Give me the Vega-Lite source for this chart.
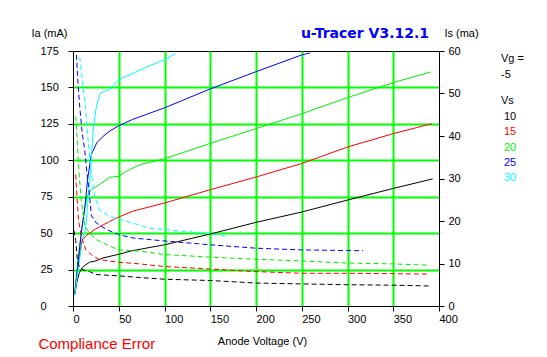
{
  "$schema": "https://vega.github.io/schema/vega-lite/v6.json",
  "autosize": "none",
  "width": 366,
  "height": 255,
  "padding": {"left": 73, "top": 51, "right": 108, "bottom": 51},
  "background": "white",
  "config": {
    "view": {"stroke": "black", "strokeWidth": 1},
    "font": "Liberation Sans",
    "axis": {"labelFont": "Liberation Sans", "titleFont": "Liberation Sans", "labelFontSize": 11, "titleFontSize": 11, "titleFontWeight": "normal", "labelColor": "black", "titleColor": "black", "domainColor": "black", "tickColor": "black", "tickSize": 5, "gridColor": "#00ff00", "gridWidth": 2, "gridOpacity": 1, "labelOverlap": false},
    "legend": {"titleFontSize": 11, "titleFontWeight": "normal", "titleFont": "Liberation Sans", "titleColor": "black", "titlePadding": 5.5, "labelFontSize": 11, "labelFont": "Liberation Sans", "labelColor": "black", "symbolSize": 0, "symbolStrokeWidth": 0, "symbolOpacity": 0, "rowPadding": 3.3, "padding": 0}
  },
  "title": {"text": "u-Tracer V3.12.1", "color": "#0000ff", "fontSize": 14, "fontWeight": "bold", "font": "DejaVu Sans", "anchor": "end", "frame": "group", "dx": -10, "offset": -14},
  "datasets": {
    "ia": [
      {"V": 2, "Ia": 8, "Vs": "10"}, {"V": 4, "Ia": 16, "Vs": "10"}, {"V": 7, "Ia": 23, "Vs": "10"}, {"V": 11, "Ia": 27, "Vs": "10"}, {"V": 18, "Ia": 30, "Vs": "10"}, {"V": 25, "Ia": 31, "Vs": "10"}, {"V": 33, "Ia": 33, "Vs": "10"}, {"V": 50, "Ia": 35.5, "Vs": "10"}, {"V": 65, "Ia": 38, "Vs": "10"}, {"V": 100, "Ia": 42, "Vs": "10"}, {"V": 150, "Ia": 49.4, "Vs": "10"}, {"V": 200, "Ia": 57.4, "Vs": "10"}, {"V": 250, "Ia": 64.5, "Vs": "10"}, {"V": 300, "Ia": 72.7, "Vs": "10"}, {"V": 350, "Ia": 80.7, "Vs": "10"}, {"V": 393, "Ia": 87.2, "Vs": "10"},
      {"V": 2, "Ia": 10, "Vs": "15"}, {"V": 5, "Ia": 25, "Vs": "15"}, {"V": 8, "Ia": 38, "Vs": "15"}, {"V": 10, "Ia": 45, "Vs": "15"}, {"V": 14, "Ia": 48, "Vs": "15"}, {"V": 18, "Ia": 50, "Vs": "15"}, {"V": 25, "Ia": 53, "Vs": "15"}, {"V": 40, "Ia": 58, "Vs": "15"}, {"V": 50, "Ia": 61, "Vs": "15"}, {"V": 65, "Ia": 65, "Vs": "15"}, {"V": 100, "Ia": 70.7, "Vs": "15"}, {"V": 150, "Ia": 79.8, "Vs": "15"}, {"V": 200, "Ia": 88.5, "Vs": "15"}, {"V": 250, "Ia": 97.8, "Vs": "15"}, {"V": 300, "Ia": 109.1, "Vs": "15"}, {"V": 350, "Ia": 118.3, "Vs": "15"}, {"V": 392, "Ia": 125.1, "Vs": "15"},
      {"V": 2, "Ia": 10, "Vs": "20"}, {"V": 6, "Ia": 35, "Vs": "20"}, {"V": 10, "Ia": 55, "Vs": "20"}, {"V": 13, "Ia": 68, "Vs": "20"}, {"V": 16, "Ia": 76, "Vs": "20"}, {"V": 20, "Ia": 80, "Vs": "20"}, {"V": 29, "Ia": 83.3, "Vs": "20"}, {"V": 40, "Ia": 88.3, "Vs": "20"}, {"V": 50, "Ia": 89, "Vs": "20"}, {"V": 58, "Ia": 92.4, "Vs": "20"}, {"V": 73, "Ia": 97, "Vs": "20"}, {"V": 100, "Ia": 101, "Vs": "20"}, {"V": 150, "Ia": 111.6, "Vs": "20"}, {"V": 200, "Ia": 121.7, "Vs": "20"}, {"V": 250, "Ia": 132, "Vs": "20"}, {"V": 300, "Ia": 143, "Vs": "20"}, {"V": 350, "Ia": 153.3, "Vs": "20"}, {"V": 391, "Ia": 160.6, "Vs": "20"},
      {"V": 2, "Ia": 8, "Vs": "25"}, {"V": 4, "Ia": 20, "Vs": "25"}, {"V": 9, "Ia": 50, "Vs": "25"}, {"V": 13, "Ia": 68, "Vs": "25"}, {"V": 16, "Ia": 87, "Vs": "25"}, {"V": 20, "Ia": 104, "Vs": "25"}, {"V": 26, "Ia": 112, "Vs": "25"}, {"V": 33, "Ia": 116.5, "Vs": "25"}, {"V": 40, "Ia": 120, "Vs": "25"}, {"V": 50, "Ia": 123.7, "Vs": "25"}, {"V": 65, "Ia": 128, "Vs": "25"}, {"V": 100, "Ia": 136, "Vs": "25"}, {"V": 150, "Ia": 149, "Vs": "25"}, {"V": 200, "Ia": 160.8, "Vs": "25"}, {"V": 250, "Ia": 172.3, "Vs": "25"}, {"V": 259, "Ia": 173.6, "Vs": "25"},
      {"V": 2, "Ia": 8, "Vs": "30"}, {"V": 5, "Ia": 22, "Vs": "30"}, {"V": 9, "Ia": 40, "Vs": "30"}, {"V": 14, "Ia": 55, "Vs": "30"}, {"V": 16, "Ia": 70, "Vs": "30"}, {"V": 19, "Ia": 91, "Vs": "30"}, {"V": 22, "Ia": 120, "Vs": "30"}, {"V": 25, "Ia": 135, "Vs": "30"}, {"V": 29, "Ia": 145, "Vs": "30"}, {"V": 31, "Ia": 146.5, "Vs": "30"}, {"V": 40, "Ia": 148.5, "Vs": "30"}, {"V": 50, "Ia": 155.3, "Vs": "30"}, {"V": 70, "Ia": 161, "Vs": "30"}, {"V": 91, "Ia": 166.8, "Vs": "30"}, {"V": 100, "Ia": 169, "Vs": "30"}, {"V": 112, "Ia": 173.2, "Vs": "30"}
    ],
    "is": [
      {"V": 1, "Is": 17.8, "Vs": "10"}, {"V": 3, "Is": 15.4, "Vs": "10"}, {"V": 5, "Is": 10.3, "Vs": "10"}, {"V": 8, "Is": 8.7, "Vs": "10"}, {"V": 11, "Is": 8.5, "Vs": "10"}, {"V": 18, "Is": 8.1, "Vs": "10"}, {"V": 25, "Is": 7.4, "Vs": "10"}, {"V": 50, "Is": 7.1, "Vs": "10"}, {"V": 73, "Is": 6.7, "Vs": "10"}, {"V": 100, "Is": 6.3, "Vs": "10"}, {"V": 150, "Is": 6.0, "Vs": "10"}, {"V": 200, "Is": 5.4, "Vs": "10"}, {"V": 250, "Is": 5.2, "Vs": "10"}, {"V": 300, "Is": 5.0, "Vs": "10"}, {"V": 350, "Is": 4.9, "Vs": "10"}, {"V": 391, "Is": 4.7, "Vs": "10"},
      {"V": 3, "Is": 30.9, "Vs": "15"}, {"V": 4.4, "Is": 25.7, "Vs": "15"}, {"V": 6, "Is": 20.2, "Vs": "15"}, {"V": 9, "Is": 16.5, "Vs": "15"}, {"V": 14, "Is": 13.2, "Vs": "15"}, {"V": 20, "Is": 12.1, "Vs": "15"}, {"V": 29, "Is": 10.9, "Vs": "15"}, {"V": 50, "Is": 10.3, "Vs": "15"}, {"V": 73, "Is": 9.9, "Vs": "15"}, {"V": 100, "Is": 9.3, "Vs": "15"}, {"V": 150, "Is": 8.7, "Vs": "15"}, {"V": 200, "Is": 8.1, "Vs": "15"}, {"V": 250, "Is": 7.7, "Vs": "15"}, {"V": 300, "Is": 7.7, "Vs": "15"}, {"V": 350, "Is": 7.6, "Vs": "15"}, {"V": 390, "Is": 7.5, "Vs": "15"},
      {"V": 3, "Is": 44.6, "Vs": "20"}, {"V": 4.4, "Is": 39.8, "Vs": "20"}, {"V": 6.6, "Is": 31.2, "Vs": "20"}, {"V": 9, "Is": 25.0, "Vs": "20"}, {"V": 12.8, "Is": 18.9, "Vs": "20"}, {"V": 18, "Is": 17.1, "Vs": "20"}, {"V": 25.6, "Is": 15.6, "Vs": "20"}, {"V": 40, "Is": 14.1, "Vs": "20"}, {"V": 50, "Is": 13.2, "Vs": "20"}, {"V": 73, "Is": 12.9, "Vs": "20"}, {"V": 100, "Is": 12.1, "Vs": "20"}, {"V": 150, "Is": 11.5, "Vs": "20"}, {"V": 200, "Is": 11.0, "Vs": "20"}, {"V": 250, "Is": 10.6, "Vs": "20"}, {"V": 300, "Is": 10.1, "Vs": "20"}, {"V": 350, "Is": 9.9, "Vs": "20"}, {"V": 388, "Is": 9.6, "Vs": "20"},
      {"V": 3.7, "Is": 59.1, "Vs": "25"}, {"V": 5.5, "Is": 52.5, "Vs": "25"}, {"V": 7.3, "Is": 47.0, "Vs": "25"}, {"V": 10, "Is": 40.8, "Vs": "25"}, {"V": 12.8, "Is": 36.7, "Vs": "25"}, {"V": 15.3, "Is": 31.2, "Vs": "25"}, {"V": 17.5, "Is": 27.4, "Vs": "25"}, {"V": 20, "Is": 21.3, "Vs": "25"}, {"V": 25.6, "Is": 19.5, "Vs": "25"}, {"V": 36.5, "Is": 18.0, "Vs": "25"}, {"V": 50, "Is": 16.8, "Vs": "25"}, {"V": 65.6, "Is": 16.0, "Vs": "25"}, {"V": 100, "Is": 15.3, "Vs": "25"}, {"V": 150, "Is": 14.4, "Vs": "25"}, {"V": 200, "Is": 13.6, "Vs": "25"}, {"V": 250, "Is": 13.2, "Vs": "25"}, {"V": 317, "Is": 13.0, "Vs": "25"},
      {"V": 7.3, "Is": 58.6, "Vs": "30"}, {"V": 9, "Is": 55.5, "Vs": "30"}, {"V": 11, "Is": 51.8, "Vs": "30"}, {"V": 13.5, "Is": 47.0, "Vs": "30"}, {"V": 15.3, "Is": 42.2, "Vs": "30"}, {"V": 17.5, "Is": 36.7, "Vs": "30"}, {"V": 20, "Is": 31.2, "Vs": "30"}, {"V": 23.7, "Is": 25.7, "Vs": "30"}, {"V": 29, "Is": 22.6, "Vs": "30"}, {"V": 40, "Is": 21.1, "Vs": "30"}, {"V": 50, "Is": 20.4, "Vs": "30"}, {"V": 65.6, "Is": 19.5, "Vs": "30"}, {"V": 84, "Is": 18.3, "Vs": "30"}, {"V": 100, "Is": 18.0, "Vs": "30"}, {"V": 135, "Is": 17.3, "Vs": "30"}, {"V": 150, "Is": 17.0, "Vs": "30"}, {"V": 168, "Is": 16.4, "Vs": "30"}
    ],
    "notes": [{"label": "Compliance Error", "V": 26, "Ia": -26}],
    "grid": [{"Vg": "-5"}]
  },
  "layer": [
    {
      "layer": [
        {
          "data": {"name": "ia"},
          "mark": {"type": "line", "strokeWidth": 1, "interpolate": "linear"},
          "encoding": {
            "x": {"field": "V", "type": "quantitative", "scale": {"domain": [0, 400], "nice": false},
              "axis": {"values": [0, 50, 100, 150, 200, 250, 300, 350, 400], "title": "Anode Voltage (V)", "labelAlign": "left", "labelDx": -2, "labelPadding": 2, "labelBaseline": "top", "titleX": 189, "titleY": 35, "titleBaseline": "middle", "titleAnchor": "start", "titleAlign": "center",
                "gridOpacity": {"condition": {"test": "datum.value == 0 || datum.value == 400", "value": 0}, "value": 1}}},
            "y": {"field": "Ia", "type": "quantitative", "scale": {"domain": [0, 175], "nice": false},
              "axis": {"orient": "left", "values": [0, 25, 50, 75, 100, 125, 150, 175], "title": "Ia (mA)", "titleAngle": 0, "titleX": -24, "titleY": -18, "titleAlign": "center", "titleBaseline": "middle", "labelAlign": "left", "labelPadding": 28, "labelBaseline": "middle",
                "gridOpacity": {"condition": {"test": "datum.value == 0 || datum.value == 175", "value": 0}, "value": 1}}},
            "color": {"field": "Vs", "type": "nominal",
              "scale": {"domain": ["10", "15", "20", "25", "30"], "range": ["#000000", "#ff0000", "#00ee00", "#0000ff", "#00ffff"]},
              "legend": {"orient": "none", "legendX": 428, "legendY": 44, "title": "Vs", "labelOffset": -8,
                "encode": {"labels": {"update": {"fill": {"scale": "color", "field": "value"}}}}}},
            "detail": {"field": "Vs"}
          }
        },
        {
          "data": {"name": "notes"},
          "mark": {"type": "text", "color": "#ff0000", "fontSize": 15, "font": "Liberation Sans", "align": "center", "baseline": "middle", "clip": false},
          "encoding": {
            "x": {"field": "V", "type": "quantitative",
              "axis": {"values": [0, 50, 100, 150, 200, 250, 300, 350, 400], "title": "Anode Voltage (V)", "labelAlign": "left", "labelDx": -2, "labelPadding": 2, "labelBaseline": "top", "titleX": 189, "titleY": 35, "titleBaseline": "middle", "titleAnchor": "start", "titleAlign": "center",
                "gridOpacity": {"condition": {"test": "datum.value == 0 || datum.value == 400", "value": 0}, "value": 1}}},
            "y": {"field": "Ia", "type": "quantitative",
              "axis": {"orient": "left", "values": [0, 25, 50, 75, 100, 125, 150, 175], "title": "Ia (mA)", "titleAngle": 0, "titleX": -24, "titleY": -18, "titleAlign": "center", "titleBaseline": "middle", "labelAlign": "left", "labelPadding": 28, "labelBaseline": "middle",
                "gridOpacity": {"condition": {"test": "datum.value == 0 || datum.value == 175", "value": 0}, "value": 1}}},
            "text": {"field": "label"}
          }
        }
      ]
    },
    {
      "data": {"name": "is"},
      "mark": {"type": "line", "strokeWidth": 1, "strokeDash": [5, 3]},
      "encoding": {
        "x": {"field": "V", "type": "quantitative"},
        "y": {"field": "Is", "type": "quantitative", "scale": {"domain": [0, 60], "nice": false},
          "axis": {"orient": "right", "values": [0, 10, 20, 30, 40, 50, 60], "grid": false, "title": "Is (ma)", "titleAngle": 0, "titleX": 22, "titleY": -18, "titleAlign": "center", "titleBaseline": "middle", "labelPadding": 4, "labelBaseline": "middle"}},
        "color": {"field": "Vs", "type": "nominal"}
      }
    },
    {
      "data": {"name": "grid"},
      "mark": {"type": "rule", "opacity": 0},
      "encoding": {
        "strokeDash": {"field": "Vg", "type": "nominal", "scale": {"domain": ["-5"], "range": [[5, 3]]},
          "legend": {"orient": "none", "legendX": 428, "legendY": 2, "title": "Vg =", "labelOffset": -11}}
      }
    }
  ],
  "resolve": {"scale": {"y": "independent"}, "axis": {"y": "independent"}}
}
